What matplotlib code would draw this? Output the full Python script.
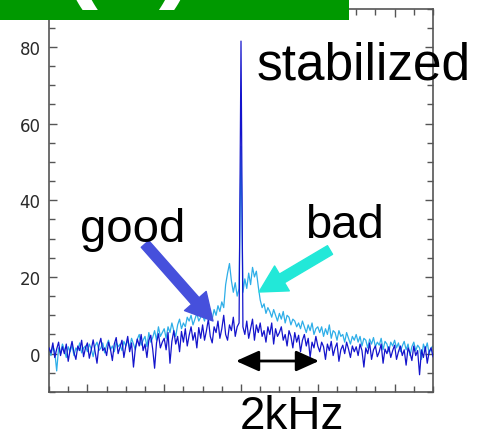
import numpy as np
import matplotlib
matplotlib.use("Agg")
import matplotlib.pyplot as plt
from matplotlib.patches import Rectangle, FancyArrowPatch
from matplotlib.ticker import MultipleLocator, NullFormatter

# offset frequency (kHz) spans -5..5; spectra sampled every 0.05 kHz
good = [
    1.5, 0.2, 2.8, -1.0, 1.2, 3.0, -0.5, 1.8, 0.0, 2.5, -2.0, 1.0, 3.2, 0.3, -1.5, 2.0, 0.8, 3.5, -0.8, 1.5,
    2.8, -1.2, 1.0, 3.6, 0.5, -2.5, 2.2, 4.0, 0.8, 1.5, -0.5, 3.0, 1.2, -1.8, 2.5, 4.2, 0.0, 1.8, 3.5, -1.0,
    2.0, 4.5, 0.5, 2.8, -3.5, 1.5, 3.8, 2.0, 5.0, 0.8, 2.5, -1.0, 3.5, 4.8, 1.2, -3.8, 2.8, 5.2, 1.5, 3.0,
    4.0, 1.0, 5.5, -2.5, 3.2, 6.0, 2.5, 4.5, 0.5, 5.8, 3.0, 6.5, 2.0, 4.8, 7.0, 3.5, 5.5, 1.5, 6.8, 4.0,
    7.5, 3.5, 6.0, 9.0, 4.5, 2.8, 7.0, 5.5, 8.5, 4.0, 6.5, 10.0, 5.0, 3.5, 7.5, 6.0, 9.5, 4.5, 7.0, 8.0,
    81.5,
    7.0, 5.0, 8.5, 4.0, 6.5, 9.0, 3.5, 7.5, 5.5, 8.0, 4.5, 6.0, 3.0, 7.0, 5.0, 8.0, 2.5, 6.5, 4.5, 5.5,
    7.0, 3.5, 5.0, 2.0, 6.0, 4.5, 1.5, 5.5, 3.0, 4.8, 0.5, 3.5, 5.0, 2.0, 4.0, -1.0, 3.0, 1.5, 4.5, 2.0,
    0.5, 3.0, 1.8, -1.5, 2.5, 0.8, 3.2, -0.5, 1.5, 2.8, -2.0, 1.0, 2.2, 0.0, 3.0, 1.2, -1.0, 2.0, 0.5, 1.8,
    -0.5, 2.5, 0.8, -3.5, 1.5, 0.0, 2.8, -1.5, 1.0, 2.0, -0.8, 0.5, 2.5, -2.5, 1.2, 0.0, 1.8, -1.0, 0.8, 2.2,
    -1.5, 0.5, 2.0, -0.5, 1.0, -3.0, 1.5, 0.2, -1.8, 2.0, -0.5, 0.8, -5.5, 1.0, -1.0, 1.8, -2.5, 0.5, 1.5, -0.8,
]
bad = [
    1.0, -0.5, 2.0, 0.5, -4.5, 1.5, 0.0, 2.5, 1.0, -1.0, 1.8, 0.5, 2.2, -0.5, 1.5, 0.8, 2.8, 0.2, 1.5, 2.0,
    0.5, 2.5, 1.2, -0.8, 2.0, 3.0, 0.8, 1.5, 2.8, 0.2, 2.2, 3.5, 1.0, 2.0, 0.5, 3.0, 1.8, 2.5, 0.8, 3.2,
    2.0, 3.5, 1.5, 4.0, 2.5, 1.0, 3.8, 5.0, 2.2, 3.5, 4.5, 1.8, 5.5, 3.0, 4.2, 6.0, 3.5, 7.0, 4.5, 5.5,
    6.5, 4.0, 7.0, 5.5, 8.0, 6.0, 4.5, 7.5, 9.0, 6.5, 8.0, 7.0, 9.5, 8.5, 10.0, 7.5, 9.0, 10.5, 8.5, 9.5,
    10.0, 8.5, 11.0, 9.5, 10.5, 9.0, 11.5, 10.0, 12.5, 11.0, 13.5, 12.0, 18.0, 21.0, 23.5, 19.0, 16.0, 18.5, 15.0, 17.0,
    54.0,
    16.0, 19.5, 17.0, 21.0, 18.0, 22.5, 20.0, 21.5, 17.5, 14.0, 12.0, 13.0, 10.5, 12.0, 11.0, 9.5, 11.5, 10.0, 8.5, 10.5,
    9.0, 11.0, 8.0, 10.0, 9.5, 7.5, 9.0, 8.5, 7.0, 8.0, 6.5, 8.5, 7.0, 5.5, 7.5, 6.0, 8.0, 5.0, 6.5, 7.0,
    5.5, 7.0, 4.5, 6.5, 5.0, 7.5, 4.0, 6.0, 5.5, 3.5, 6.0, 4.5, 5.0, 3.0, 5.5, 4.0, 2.5, 4.5, 3.5, 5.0,
    3.0, 4.5, 2.0, 4.0, 3.5, 1.5, 3.8, 2.5, 4.2, 1.8, 3.0, 2.2, 4.0, 1.0, 3.2, 2.5, 0.5, 3.0, 2.0, 3.5,
    1.5, 2.8, 0.5, 2.0, 3.2, 1.0, 2.5, -0.5, 1.8, 3.0, 0.8, 2.2, 1.5, -1.5, 2.5, 1.0, 2.8, 0.0, 1.5, 2.0,
]
f_min, f_max = -5.0, 5.0
yticks = [0, 20, 40, 60, 80]

W, H = 479, 431
fig = plt.figure(figsize=(W / 100, H / 100), dpi=100)
ax = fig.add_axes([49 / W, 1 - 393 / H, (433 - 49) / W, (393 - 9.5) / H])

x_good = np.linspace(f_min, f_max, len(good))
x_bad = np.linspace(f_min, f_max, len(bad))
ax.plot(x_bad, bad, color="#2eaee8", lw=0.9, zorder=2)
ax.plot(x_good, good, color="#1414cc", lw=0.9, zorder=3)

ax.set_xlim(f_min, f_max)
ax.set_ylim(-10, 90)
ax.set_yticks(yticks)
ax.yaxis.set_minor_locator(MultipleLocator(5))
ax.xaxis.set_major_locator(MultipleLocator(2))
ax.xaxis.set_minor_locator(MultipleLocator(0.5))
ax.xaxis.set_major_formatter(NullFormatter())
ax.tick_params(which="both", direction="in", top=True, right=True, color="#555555")
ax.tick_params(which="major", length=6, width=1)
ax.tick_params(which="minor", length=4, width=1)
ax.tick_params(axis="y", labelsize=12, labelcolor="#2a2a2a", pad=6)
for s in ax.spines.values():
    s.set_color("#555555")
    s.set_linewidth(1.2)

# green banner
fig.patches.append(Rectangle((0, 1 - 21 / H), 349 / W, 21 / H, transform=fig.transFigure,
                             facecolor="#009900", edgecolor="none", zorder=5))
fig.text(128 / W, 1 + 13 / H, "(a)", color="white", fontsize=80, fontweight="bold",
         family="Liberation Sans", ha="center", va="baseline", zorder=6)

def fp(px, py):
    return (px / W, 1 - py / H)

txt = dict(family="Liberation Sans", color="black", ha="left", va="baseline", zorder=7)
fig.text(*fp(257, 80), "stabilized", fontsize=37, **txt)
fig.text(*fp(80, 242), "good", fontsize=34, **txt)
fig.text(*fp(305, 238), "bad", fontsize=34, **txt)
fig.text(*fp(240, 429), "2kHz", fontsize=33, **txt)

a1 = FancyArrowPatch(fp(145, 245), fp(213, 322), transform=fig.transFigure,
                     arrowstyle="simple,head_width=2.6,head_length=2.4,tail_width=0.9",
                     mutation_scale=8, color="#4650dc", zorder=6, shrinkA=0, shrinkB=0)
a2 = FancyArrowPatch(fp(330, 251), fp(259, 293), transform=fig.transFigure,
                     arrowstyle="simple,head_width=2.6,head_length=2.4,tail_width=0.9",
                     mutation_scale=8, color="#22e8d8", zorder=6, shrinkA=0, shrinkB=0)
a3 = FancyArrowPatch(fp(236, 362), fp(319, 362), transform=fig.transFigure,
                     arrowstyle="<|-|>,head_width=0.45,head_length=1.0",
                     mutation_scale=14, color="black", lw=2, zorder=6, shrinkA=0, shrinkB=0)
for a in (a1, a2, a3):
    fig.patches.append(a)

fig.savefig("out.png", dpi=100)
